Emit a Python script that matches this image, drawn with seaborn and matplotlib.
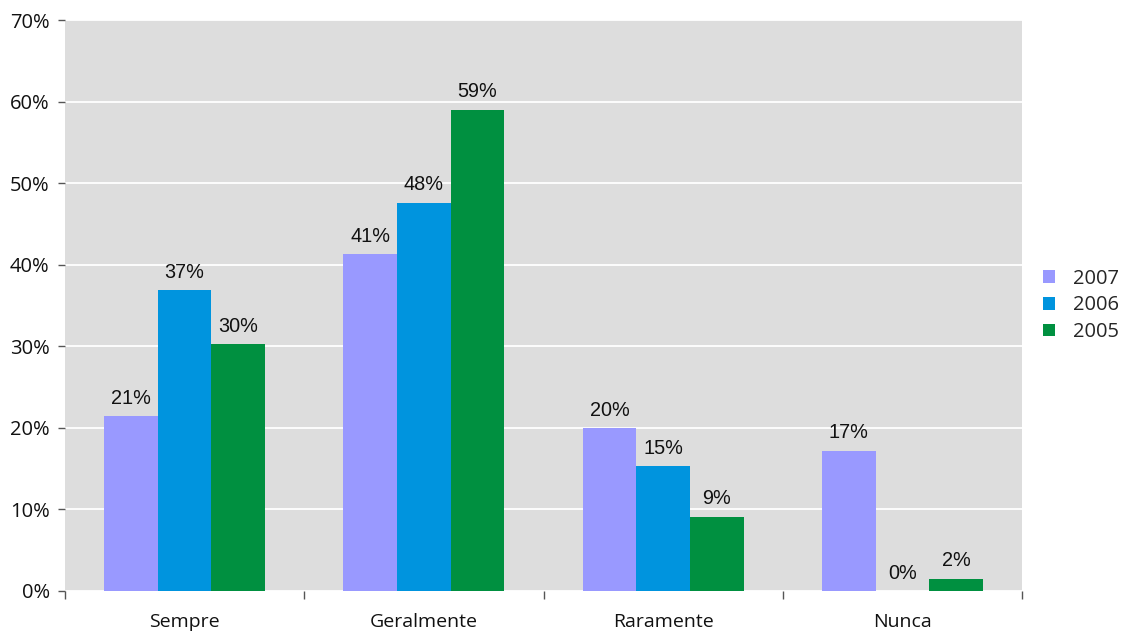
import matplotlib
matplotlib.use("Agg")
import matplotlib.pyplot as plt
from matplotlib.ticker import FixedLocator, PercentFormatter
import seaborn as sns
import pandas as pd

categories = ["Sempre", "Geralmente", "Raramente", "Nunca"]
years = ["2007", "2006", "2005"]
values_2007 = [21.4, 41.3, 20.0, 17.2]
values_2006 = [36.9, 47.6, 15.3, 0.0]
values_2005 = [30.3, 59.0, 9.1, 1.5]
colors = ["#9999FF", "#0094DE", "#009040"]

df = pd.DataFrame({
    "categoria": categories * 3,
    "ano": [y for y in years for _ in categories],
    "valor": values_2007 + values_2006 + values_2005,
})

sns.set_theme(style="white")
plt.rcParams["font.family"] = ["Open Sans", "DejaVu Sans"]

fig = plt.figure(figsize=(11.21, 6.31), dpi=100)
ax = fig.add_axes([0.058, 0.0634, 0.8537, 0.9049])
ax.set_facecolor("#DDDDDD")

sns.barplot(data=df, x="categoria", y="valor", hue="ano", hue_order=years,
            palette=colors, width=0.673, saturation=1, ax=ax, zorder=3,
            edgecolor="none", linewidth=0)

ax.set_ylim(0, 70)
ax.set_xlim(-0.5, 3.5)
ax.yaxis.set_major_locator(FixedLocator(range(0, 71, 10)))
ax.yaxis.set_major_formatter(PercentFormatter(decimals=0))
ax.grid(axis="y", color="white", linewidth=1.3, zorder=1)
ax.set_axisbelow(True)
for s in ax.spines.values():
    s.set_visible(False)

ax.tick_params(axis="y", left=True, length=5, width=1, color="#555555",
               labelsize=14.5, pad=6, labelcolor="#111111")
ax.tick_params(axis="x", which="major", bottom=False, labelsize=14, pad=10,
               labelcolor="#111111")
ax.set_xticks([-0.5, 0.5, 1.5, 2.5, 3.5], minor=True)
ax.tick_params(axis="x", which="minor", bottom=True, length=6, width=1,
               color="#555555")
ax.set_xlabel("")
ax.set_ylabel("")

for cont in ax.containers:
    ax.bar_label(cont, labels=[f"{v:.0f}%" for v in cont.datavalues],
                 padding=6, fontsize=14.3, family="Liberation Sans",
                 color="#111111")

ax.legend(loc="center left", bbox_to_anchor=(1.003, 0.5), frameon=False,
          fontsize=14.5, handlelength=0.6, handleheight=0.6,
          handletextpad=0.9, labelspacing=0.33)

fig.savefig("out.png", dpi=100)
